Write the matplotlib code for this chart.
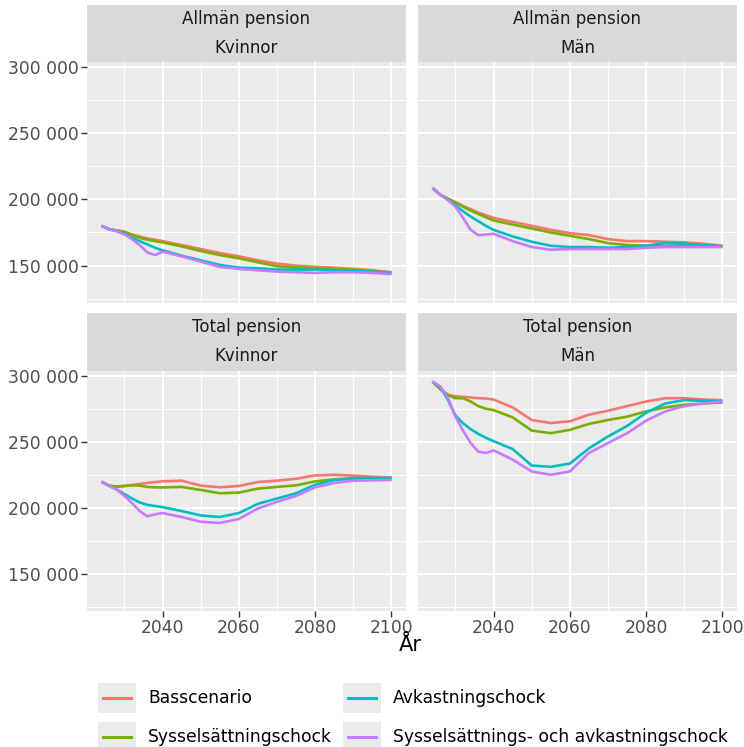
import matplotlib
matplotlib.use('Agg')
import matplotlib.pyplot as plt
from matplotlib.ticker import FuncFormatter, FixedLocator
from matplotlib.patches import Rectangle
from matplotlib.lines import Line2D

plt.rcParams['font.family'] = ['DejaVu Sans']

# ---- data ----
years = [2024, 2026, 2028, 2030, 2032, 2034, 2036, 2038, 2040, 2045, 2050,
         2055, 2060, 2065, 2070, 2075, 2080, 2085, 2090, 2095, 2100]

scenarios = ['Basscenario', 'Sysselsättningschock', 'Avkastningschock',
             'Sysselsättnings- och avkastningschock']
colors = ['#F8766D', '#7CAE00', '#00BFC4', '#C77CFF']

# Allmän pension, Kvinnor
ak_bas = [180000, 177500, 176500, 175500, 173500, 172000, 170500, 169500, 168500, 165500, 162500,
          159500, 157000, 154000, 151500, 150000, 149000, 148500, 147500, 146500, 145000]
ak_syss = [180000, 177500, 176500, 175500, 173000, 171000, 169500, 168500, 167500, 164500, 161000,
           158000, 155500, 152500, 149500, 148500, 148000, 147500, 147000, 146000, 144500]
ak_avk = [180000, 177500, 176000, 174000, 171000, 168500, 166000, 163500, 161500, 157500, 154000,
          150500, 148500, 148000, 147000, 147000, 147000, 146500, 146000, 145500, 144500]
ak_both = [180000, 177500, 176000, 173500, 170000, 165500, 160000, 158000, 160500, 157000, 153000,
           149000, 147500, 146500, 145500, 145000, 144500, 145000, 145000, 144500, 143500]

# Allmän pension, Män
am_bas = [208500, 203500, 200500, 198000, 195000, 192500, 190000, 188000, 186000, 183000, 180000,
          177000, 174500, 173000, 170000, 168500, 168500, 168000, 167500, 166500, 165000]
am_syss = [208500, 203500, 200500, 197500, 194500, 191500, 189000, 186500, 184000, 181000, 178000,
           175000, 172500, 170000, 167000, 165500, 165000, 165000, 165000, 165000, 164500]
am_avk = [208500, 203500, 200000, 195500, 191000, 187000, 183500, 180000, 177000, 172000, 168000,
          165000, 164000, 164000, 163500, 164000, 165000, 167000, 166500, 165500, 164500]
am_both = [208500, 203500, 199500, 194500, 186000, 177000, 173000, 173500, 174000, 168500, 164000,
           162000, 162500, 162500, 162500, 162500, 163500, 164000, 164000, 164000, 164000]

# Total pension, Kvinnor
tk_bas = [219700, 216700, 216000, 216700, 217300, 218000, 218800, 219500, 220000, 220500, 216800,
          215500, 216500, 219500, 220500, 222000, 224500, 225000, 224300, 223500, 223000]
tk_syss = [219700, 216700, 216000, 216400, 217000, 216800, 215800, 215500, 215400, 215800, 213500,
           211000, 211500, 214500, 215800, 217000, 220000, 221500, 222300, 222500, 222500]
tk_avk = [219700, 216500, 213800, 210400, 207000, 204000, 202200, 201300, 200500, 197500, 194200,
          193000, 196000, 203000, 207000, 211000, 217500, 221000, 222300, 222500, 222300]
tk_both = [219700, 216500, 213800, 209100, 203500, 197500, 193500, 195000, 196000, 193000, 189400,
           188500, 191500, 199500, 204500, 209000, 215500, 218800, 220500, 220800, 221000]

# Total pension, Män
tm_bas = [295500, 290000, 285500, 284500, 284000, 283500, 283000, 282800, 282000, 276000, 266500,
          264200, 265500, 270500, 273500, 277000, 280500, 283000, 283000, 282000, 281500]
tm_syss = [295500, 290000, 285500, 283000, 283000, 280500, 277000, 275000, 274000, 268500, 258500,
           256500, 259000, 263500, 266500, 269000, 273000, 276000, 278000, 279000, 279800]
tm_avk = [295500, 291500, 282000, 270000, 264000, 259500, 256000, 253000, 250500, 244500, 232000,
          231000, 233500, 245000, 254000, 262000, 272000, 279000, 281500, 281000, 280300]
tm_both = [295500, 292000, 283500, 269000, 258500, 249000, 242500, 241500, 243500, 236500, 227500,
           225000, 227500, 241500, 249000, 256500, 266000, 273000, 277000, 279000, 280500]

panels = [
    ('Allmän pension', 'Kvinnor', [ak_bas, ak_syss, ak_avk, ak_both]),
    ('Allmän pension', 'Män', [am_bas, am_syss, am_avk, am_both]),
    ('Total pension', 'Kvinnor', [tk_bas, tk_syss, tk_avk, tk_both]),
    ('Total pension', 'Män', [tm_bas, tm_syss, tm_avk, tm_both]),
]

# ---- layout (pixels) ----
W, H = 744, 747
fig = plt.figure(figsize=(W / 100, H / 100), dpi=100)


def px_axes(x0, y0, x1, y1):
    return fig.add_axes([x0 / W, 1 - y1 / H, (x1 - x0) / W, (y1 - y0) / H])


cols = [(87, 406), (418, 737)]
rows = [((5, 62), (62, 303)), ((313, 371), (371, 611))]

tick_color = '#4D4D4D'
fmt = FuncFormatter(lambda v, p: f'{int(v):,}'.replace(',', ' '))

for i, (title, sex, series) in enumerate(panels):
    r, c = divmod(i, 2)
    (sy0, sy1), (py0, py1) = rows[r]
    x0, x1 = cols[c]

    # strip
    st = px_axes(x0, sy0, x1, sy1)
    st.set_facecolor('#D9D9D9')
    st.set_xticks([])
    st.set_yticks([])
    for s in st.spines.values():
        s.set_visible(False)
    st.text(0.5, 0.75, title, ha='center', va='center', fontsize=12, color='#1A1A1A')
    st.text(0.5, 0.25, sex, ha='center', va='center', fontsize=12, color='#1A1A1A')

    ax = px_axes(x0, py0, x1, py1)
    ax.set_facecolor('#EBEBEB')
    for s in ax.spines.values():
        s.set_visible(False)
    ax.set_xlim(2020.2, 2103.8)
    ax.set_ylim(121800, 303600)
    ax.xaxis.set_major_locator(FixedLocator([2040, 2060, 2080, 2100]))
    ax.xaxis.set_minor_locator(FixedLocator([2030, 2050, 2070, 2090]))
    ax.yaxis.set_major_locator(FixedLocator([150000, 200000, 250000, 300000]))
    ax.yaxis.set_minor_locator(FixedLocator([125000, 175000, 225000, 275000]))
    ax.yaxis.set_major_formatter(fmt)
    ax.grid(which='major', color='white', lw=1.4)
    ax.grid(which='minor', color='white', lw=0.7)
    ax.set_axisbelow(True)
    ax.tick_params(which='minor', length=0)
    ax.tick_params(which='major', length=4, width=1, color='#333333',
                   labelsize=12.3, labelcolor=tick_color, pad=2)
    if r == 0:
        ax.tick_params(axis='x', which='major', length=0, labelbottom=False)
    if c == 1:
        ax.tick_params(axis='y', which='major', length=0, labelleft=False)

    for vals, col in zip(series, colors):
        ax.plot(years, vals, color=col, lw=1.9, solid_capstyle='butt')

fig.text(410 / W, 1 - 645 / H, 'År', ha='center', va='center', fontsize=15, color='black')

# ---- legend ----
lg = px_axes(0, 0, W, H)
lg.set_xlim(0, W)
lg.set_ylim(H, 0)
lg.axis('off')
key_x = [98, 343]
key_y = [683, 722]
for j, (name, col) in enumerate(zip(scenarios, colors)):
    cc, rr = divmod(j, 2)
    kx, ky = key_x[cc], key_y[rr]
    lg.add_patch(Rectangle((kx, ky), 38, 30, facecolor='#EBEBEB', edgecolor='none'))
    lg.add_line(Line2D([kx + 5, kx + 33], [ky + 15, ky + 15], color=col, lw=2.2))
    lg.text(kx + 50, ky + 15, name, ha='left', va='center', fontsize=12.3, color='black')

fig.savefig('out.png', dpi=100, facecolor='white')
